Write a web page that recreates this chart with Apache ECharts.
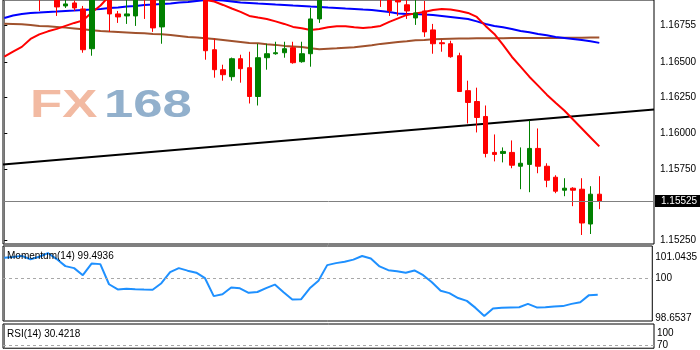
<!DOCTYPE html>
<html><head><meta charset="utf-8">
<script src="https://cdn.jsdelivr.net/npm/echarts@6/dist/echarts.min.js"></script>
<style>html,body{margin:0;padding:0;background:#fff}#c{width:700px;height:350px}</style>
</head><body><div id="c"></div>
<script>
// ---- data (bar index 0..68, newest last) ----
const opens  = [1.1705,1.1702,1.1706,1.1703,1.1699,1.1695,1.1698,1.16892,1.16913,1.16871,
 1.16592,1.1699,1.1696,1.16836,1.16822,1.16822,1.1700,1.1697,1.16745,1.1698,
 1.1704,1.1709,1.1706,1.1701,1.16585,1.16445,1.16396,1.16522,1.16459,1.16257,
 1.16529,1.16557,1.16564,1.16599,1.16501,1.16557,1.16801,1.1697,1.1703,1.1707,
 1.1704,1.1700,1.1705,1.1701,1.1696,1.1695,1.1690,1.16808,1.16857,1.16724,
 1.16634,1.16627,1.16543,1.16298,1.16222,1.16117,1.15865,1.15858,1.15865,1.15768,
 1.15781,1.15893,1.15768,1.15691,1.15600,1.15614,1.15607,1.15363,1.15572];
const highs  = [1.1712,1.1710,1.1713,1.1709,1.1704,1.1703,1.1701,1.1694,1.1693,1.16892,
 1.1702,1.1706,1.1700,1.16857,1.1694,1.1699,1.1704,1.1700,1.1701,1.1707,
 1.1712,1.1716,1.1713,1.1706,1.16662,1.16480,1.16530,1.16550,1.16571,1.16627,
 1.16627,1.16641,1.16641,1.16641,1.16641,1.16878,1.1701,1.1706,1.1710,1.1714,
 1.1711,1.1708,1.1711,1.1705,1.1700,1.1697,1.1694,1.1694,1.16927,1.16766,
 1.16655,1.16648,1.16564,1.16368,1.16319,1.16194,1.15991,1.15900,1.15949,1.15900,
 1.16089,1.16033,1.15789,1.15705,1.15684,1.15621,1.15684,1.15628,1.15698];
const lows   = [1.1699,1.1697,1.1700,1.1696,1.16857,1.1694,1.16822,1.16878,1.16857,1.16564,
 1.16543,1.1695,1.16710,1.16773,1.16766,1.16752,1.16801,1.16710,1.16627,1.1695,
 1.1700,1.1703,1.1699,1.16515,1.16389,1.16368,1.16368,1.16354,1.16208,1.16194,
 1.16445,1.16550,1.16529,1.16487,1.16494,1.16466,1.16773,1.1694,1.1699,1.1702,
 1.1698,1.1696,1.1698,1.16885,1.16822,1.16822,1.16801,1.16759,1.16675,1.16557,
 1.16571,1.16529,1.16290,1.16068,1.16005,1.15830,1.15802,1.15795,1.15754,1.15607,
 1.15586,1.15719,1.15621,1.15579,1.15558,1.15488,1.15286,1.15293,1.15467];
const closes = [1.1702,1.1706,1.1703,1.1699,1.1694,1.1700,1.16885,1.16906,1.16878,1.16585,
 1.1699,1.1697,1.16836,1.16815,1.16836,1.1695,1.1695,1.16738,1.1698,1.1704,
 1.1709,1.1706,1.1702,1.16578,1.16445,1.16410,1.16522,1.16452,1.16257,1.16529,
 1.16557,1.16564,1.16592,1.16494,1.16557,1.16801,1.1697,1.1703,1.1707,1.1704,
 1.1700,1.1705,1.1701,1.1696,1.16857,1.1692,1.16857,1.16843,1.16710,1.16627,
 1.16627,1.16536,1.16292,1.16215,1.16110,1.15858,1.15851,1.15872,1.15775,1.15789,
 1.15893,1.15768,1.15670,1.15593,1.15614,1.15600,1.15370,1.15572,1.15525];
const maRed = [1.16536,1.16571,1.16605,1.16661,1.16693,1.16714,1.16731,1.16752,1.16773,1.16791,
 1.16846,1.16895,1.16962,1.16990,1.17011,1.17025,1.17031,1.17031,1.17025,1.17011,
 1.16997,1.16976,1.16955,1.16934,1.16923,1.16899,1.16874,1.16850,1.16822,1.16811,
 1.16801,1.16784,1.16766,1.16745,1.16735,1.16724,1.16731,1.16742,1.16749,1.16749,
 1.16742,1.16738,1.16742,1.16752,1.16780,1.16805,1.16829,1.16840,1.16850,1.16864,
 1.16871,1.16867,1.16857,1.16843,1.16815,1.16752,1.16696,1.16619,1.16536,1.16466,
 1.16396,1.16333,1.16270,1.16214,1.16159,1.16096,1.16033,1.15970,1.15907];
const maBlue = [1.16808,1.16825,1.16836,1.16843,1.16846,1.16850,1.16853,1.16857,1.16860,1.16864,
 1.16867,1.16871,1.16878,1.16881,1.16888,1.16892,1.16899,1.16902,1.16906,1.16909,
 1.16916,1.16920,1.16927,1.16934,1.16934,1.16930,1.16923,1.16916,1.16913,1.16909,
 1.16906,1.16902,1.16899,1.16895,1.16892,1.16888,1.16885,1.16881,1.16878,1.16874,
 1.16871,1.16867,1.16864,1.16857,1.16850,1.16839,1.16836,1.16836,1.16832,1.16829,
 1.16822,1.16815,1.16808,1.16801,1.16784,1.16766,1.16752,1.16742,1.16731,1.16717,
 1.16707,1.16696,1.16686,1.16675,1.16668,1.16661,1.16654,1.16644,1.16633];
const maBrown = [1.16767,1.16766,1.16763,1.16758,1.16752,1.16749,1.16745,1.16740,1.16734,1.16728,
 1.16721,1.16716,1.16712,1.16709,1.16706,1.16703,1.16700,1.16696,1.16693,1.16689,
 1.16682,1.16675,1.16670,1.16665,1.16660,1.16654,1.16647,1.16640,1.16633,1.16630,
 1.16624,1.16619,1.16612,1.16608,1.16604,1.16595,1.16589,1.16592,1.16595,1.16599,
 1.16602,1.16609,1.16616,1.16626,1.16633,1.16640,1.16644,1.16651,1.16654,1.16658,
 1.16661,1.16662,1.16663,1.16664,1.16665,1.16665,1.16666,1.16666,1.16667,1.16667,
 1.16667,1.16668,1.16668,1.16668,1.16669,1.16669,1.16669,1.16670,1.16670];
const momentum = [100.668,100.694,100.729,100.623,100.700,100.819,100.627,100.402,100.338,100.113,
 100.482,100.466,99.825,99.661,99.680,99.664,99.655,99.648,99.857,100.210,
 100.338,100.258,100.193,100.017,99.446,99.504,99.722,99.696,99.552,99.578,
 99.703,99.815,99.568,99.337,99.343,99.696,99.937,100.434,100.498,100.540,
 100.610,100.726,100.643,100.392,100.274,100.242,100.193,100.264,100.113,99.889,
 99.616,99.542,99.385,99.295,99.071,98.814,99.055,99.077,99.087,99.093,
 99.199,99.087,99.090,99.116,99.128,99.199,99.250,99.478,99.4936];
const rsiLast = 30.4218;
const currentPrice = 1.15525;
const trendIdx = [-0.1486, 74.2514];
const trendPrice = [1.15781, 1.16166];
const priceTicks = [1.1525, 1.1575, 1.16, 1.1625, 1.165, 1.16755];
const momTicks = [98.6537, 100, 101.0435];
const momLevel = 100;
const rsiTicks = [70, 100];
const rsiLevel = 70;

// ---- build ----
const FONT = '"Liberation Sans", Arial, sans-serif';
const xMin = trendIdx[0], xMax = trendIdx[1];
const candleData = opens.map((o, i) => [i, o, closes[i], lows[i], highs[i]]);
const toXY = arr => arr.map((v, i) => [i, v]);
const lastMom = momentum[momentum.length - 1];

function edgeRich(topV, botV, topPad) {
  return {
    formatter: v => {
      const s = String(+v.toFixed(4));
      if (Math.abs(v - topV) < 1e-6) return '{t|' + s + '}';
      if (Math.abs(v - botV) < 1e-6) return '{b|' + s + '}';
      return '{m|' + s + '}';
    },
    rich: {
      t: {padding: [topPad, 0, 0, 0], fontSize: 10, fontFamily: FONT, color: '#000'},
      b: {padding: [0, 0, 5, 0], fontSize: 10, fontFamily: FONT, color: '#000'},
      m: {fontSize: 10, fontFamily: FONT, color: '#000'}
    }
  };
}

const chart = echarts.init(document.getElementById('c'), null, {renderer: 'canvas'});
const xAx = gi => ({type: 'value', gridIndex: gi, min: xMin, max: xMax, show: false});
const axisCommon = {
  position: 'right',
  axisLine: {show: true, lineStyle: {color: '#707070', width: 1}},
  splitLine: {show: false}
};
chart.setOption({
  animation: false,
  backgroundColor: '#ffffff',
  title: [
    {text: 'Momentum(14) ' + lastMom, left: 7, top: 251, padding: 0,
     textStyle: {fontSize: 10, fontWeight: 'normal', color: '#000', fontFamily: FONT}},
    {text: 'RSI(14) ' + rsiLast, left: 7, top: 329, padding: 0,
     textStyle: {fontSize: 10, fontWeight: 'normal', color: '#000', fontFamily: FONT}}
  ],
  graphic: [
    {type: 'text', x: 30, y: 106, scaleX: 1.35, z: 0, silent: true,
     style: {text: 'FX', font: 'bold 39px "Liberation Sans"', fill: '#F2BAA2', verticalAlign: 'middle', align: 'left'}},
    {type: 'text', x: 104, y: 106, scaleX: 1.35, z: 0, silent: true,
     style: {text: '168', font: 'bold 39px "Liberation Sans"', fill: '#92B0CC', verticalAlign: 'middle', align: 'left'}}
  ],
  grid: [
    {left: 3, right: 46, top: -1, height: 245, show: true, borderColor: '#000', borderWidth: 1},
    {left: 3, right: 46, top: 246, height: 75, show: true, borderColor: '#000', borderWidth: 1},
    {left: 3, right: 46, top: 324, height: 27, show: true, borderColor: '#000', borderWidth: 1}
  ],
  xAxis: [xAx(0), xAx(1), xAx(2)],
  yAxis: [
    Object.assign({}, axisCommon, {
      type: 'value', gridIndex: 0, min: 1.152228, max: 1.169337,
      axisTick: {show: true, length: 3, lineStyle: {color: '#000'}, customValues: priceTicks},
      axisLabel: {customValues: priceTicks, margin: 6, fontSize: 10, fontFamily: FONT, color: '#000',
                  formatter: v => v.toFixed(5)}
    }),
    Object.assign({}, axisCommon, {
      type: 'value', gridIndex: 1, min: momTicks[0], max: momTicks[2],
      axisTick: {show: false},
      axisLabel: Object.assign({customValues: momTicks, margin: 3}, edgeRich(momTicks[2], momTicks[0], 23))
    }),
    Object.assign({}, axisCommon, {
      type: 'value', gridIndex: 2, min: 65.385, max: 100,
      axisTick: {show: false},
      axisLabel: Object.assign({customValues: rsiTicks, margin: 3}, edgeRich(100, -1, 18))
    })
  ],
  series: [
    {type: 'line', name: 'trend', xAxisIndex: 0, yAxisIndex: 0, symbol: 'none',
     data: [[trendIdx[0], trendPrice[0]], [trendIdx[1], trendPrice[1]]],
     lineStyle: {color: '#000', width: 2}, z: 3},
    {type: 'line', name: 'maBrown', xAxisIndex: 0, yAxisIndex: 0, symbol: 'none', clip: false,
     data: toXY(maBrown), lineStyle: {color: '#A0522D', width: 2}, z: 3,
     markLine: {silent: true, symbol: 'none', precision: 5, animation: false,
       lineStyle: {color: '#808080', width: 1, type: 'solid'},
       label: {show: true, position: 'end', distance: 1, formatter: currentPrice.toFixed(5),
               backgroundColor: '#000', color: '#fff', fontSize: 10, fontFamily: FONT,
               padding: [1, 3, 0, 6], lineHeight: 11},
       data: [{yAxis: currentPrice}]}},
    {type: 'line', name: 'maBlue', xAxisIndex: 0, yAxisIndex: 0, symbol: 'none',
     data: toXY(maBlue), lineStyle: {color: '#0000FF', width: 2}, z: 3},
    {type: 'line', name: 'maRed', xAxisIndex: 0, yAxisIndex: 0, symbol: 'none',
     data: toXY(maRed), lineStyle: {color: '#FF0000', width: 2}, z: 3},
    {type: 'candlestick', name: 'EURUSD', xAxisIndex: 0, yAxisIndex: 0, barWidth: 5, clip: true,
     encode: {x: 0, y: [1, 2, 3, 4]},
     data: candleData, z: 4,
     itemStyle: {color: '#008000', color0: '#FF0000', borderColor: '#008000', borderColor0: '#FF0000', borderWidth: 1}},
    {type: 'line', name: 'Momentum', xAxisIndex: 1, yAxisIndex: 1, symbol: 'none',
     data: toXY(momentum), lineStyle: {color: '#1E90FF', width: 2},
     markLine: {silent: true, symbol: 'none', precision: 4, label: {show: false},
       lineStyle: {color: '#A8A8A8', width: 1, type: [3, 3]}, data: [{yAxis: momLevel}]}},
    {type: 'line', name: 'RSI', xAxisIndex: 2, yAxisIndex: 2, symbol: 'none',
     data: [[momentum.length - 1, rsiLast]], lineStyle: {color: '#1E90FF', width: 2},
     markLine: {silent: true, symbol: 'none', label: {show: false},
       lineStyle: {color: '#A8A8A8', width: 1, type: [3, 3]}, data: [{yAxis: rsiLevel}]}}
  ]
});
</script>
</body></html>
